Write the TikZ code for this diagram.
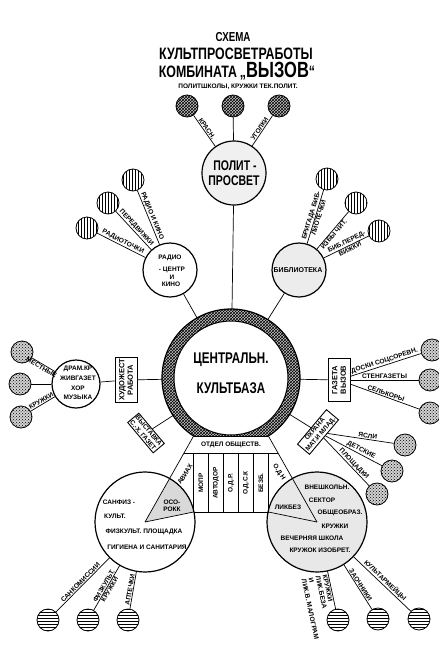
\documentclass[tikz,border=0pt]{standalone}
\usepackage{fontspec}
\setmainfont{Liberation Sans}
\newfontfamily\condf[FakeStretch=0.75]{Liberation Sans}
\usetikzlibrary{patterns}
\begin{document}
\begin{tikzpicture}[x=1pt,y=-1pt,
  every node/.style={font=\bfseries\fontsize{6.5}{7.5}\selectfont, inner sep=0.6pt},
  lab/.style={sloped, font=\bfseries\fontsize{6.6}{7.2}\selectfont, inner sep=0.7pt},
  sc/.style={circle, draw, line width=0.8pt, minimum size=22pt, inner sep=0pt},
  xh/.style={sc, preaction={fill=gray!45}, pattern=crosshatch},
  vl/.style={sc, pattern=vertical lines},
  hl/.style={sc, pattern=horizontal lines},
  st/.style={sc, preaction={fill=gray!35}, pattern=crosshatch dots},
  bigc/.style={circle, draw, line width=1.2pt, inner sep=0pt},
  bx/.style={draw, line width=0.9pt, fill=white, align=center, inner sep=1.2pt, font=\bfseries\fontsize{7.5}{8.5}\selectfont},
  ln/.style={line width=0.7pt},
  bigtxt/.style={font=\condf\bfseries\fontsize{#1}{#1}\selectfont}
]
\fill[white] (0,0) rectangle (439,670);
\useasboundingbox (0,0) rectangle (439,670);

% ---------- title
\node[bigtxt=13] (ttl1) at (233,37) {СХЕМА};
\node[bigtxt=16.5] (ttl2) at (236,54) {КУЛЬТПРОСВЕТРАБОТЫ};
\node[bigtxt=16.5, anchor=base] (ttl3) at (237,77) {КОМБИНАТА\,„{\fontsize{22}{22}\selectfont ВЫЗОВ}“};
\node (ttl4) at (238,87) {ПОЛИТШКОЛЫ, КРУЖКИ ТЕК.ПОЛИТ.};

% ---------- central ring
\node[circle, minimum size=138pt, inner sep=0pt] (cb) at (231,378) {};
\fill[gray!45] (231,378) circle (69pt);
\fill[pattern=crosshatch] (231,378) circle (69pt);
\fill[white] (231,378) circle (57pt);
\draw[line width=1.2pt] (231,378) circle (69pt);
\draw[line width=1pt] (231,378) circle (57pt);
\node[bigtxt=15.5] (cbt1) at (231,360) {ЦЕНТРАЛЬН.};
\node[bigtxt=15.5] (cbt2) at (231,388) {КУЛЬТБАЗА};

% ---------- department trapezoid
\coordinate (TL) at (193.6,436);
\coordinate (TR) at (268.4,436);
\coordinate (BL) at (184,453);
\coordinate (BR) at (278,453);
\coordinate (P) at (145,522);
\coordinate (Q) at (317,522);
\fill[white] (TL) -- (TR) -- (BR) -- (BL) -- cycle;

% lower circles
\node[circle, fill=white, minimum size=100pt, inner sep=0pt] (sf) at (145,522) {};
\node[circle, fill=gray!18, minimum size=100pt, inner sep=0pt] (vs) at (317,522) {};
\begin{scope}
  \clip (145,522) circle (50pt);
  \fill[gray!30] (P) -- (193.5,512) -- (193.5,453) -- (BL) -- cycle;
\end{scope}
\draw[line width=1.2pt] (145,522) circle (50pt);
\draw[line width=1.2pt] (317,522) circle (50pt);

\draw[ln] (TL) -- (TR);
\draw[ln] (TL) -- (P);
\draw[ln] (TR) -- (Q);
\draw[ln] (BL) -- (BR);
\foreach \cx in {193.5,208.5,223.5,238.5,253.5,268.5}
  \draw[ln] (\cx,453) -- (\cx,512);
\draw[ln] (193.5,512) -- (268.5,512);
\draw[ln] (P) -- (193.5,512);
\draw[ln] (Q) -- (268.5,512);

\node (otd) at (231,445) {ОТДЕЛ ОБЩЕСТВ.};
\node[rotate=90] (c1) at (201,483) {МОПР};
\node[rotate=90] (c2) at (216,483) {АВТОДОР};
\node[rotate=90] (c3) at (231,483) {О.Д.Р.};
\node[rotate=90] (c4) at (246,483) {О.Д.С.К};
\node[rotate=90] (c5) at (261,483) {БЕЗБ.};
\node[rotate=58] (avi) at (185,474) {АВИАХ};
\node[rotate=-58] (odn) at (279,472) {О.Д.Н};
\node[align=center] (oso) at (172,506) {ОСО-\\РОКК};

\node (sf1) at (119,502) {САНФИЗ -};
\node (sf2) at (115,516) {КУЛЬТ.};
\node (sf3) at (144,532) {ФИЗКУЛЬТ. ПЛОЩАДКА};
\node (sf4) at (147,547) {ГИГИЕНА И САНИТАРИЯ};

\node (vs1) at (327,487) {ВНЕШКОЛЬН.};
\node (vs2) at (322,500) {СЕКТОР};
\node (vs3) at (340,513) {ОБЩЕОБРАЗ.};
\node (vs4) at (335,526) {КРУЖКИ};
\node (vs5) at (312,538) {ВЕЧЕРНЯЯ ШКОЛА};
\node (vs6) at (320,550) {КРУЖОК ИЗОБРЕТ.};
\node (lik) at (288,507) {ЛИКБЕЗ};

% ---------- polit-prosvet
\node[bigc, fill=gray!12, minimum size=64pt] (pp) at (234,173) {};
\node[bigtxt=14] (ppt1) at (235,166) {ПОЛИТ -};
\node[bigtxt=14] (ppt2) at (234,181) {ПРОСВЕТ};
\node[xh] (ta) at (187,106) {};
\node[xh] (tb) at (233,106) {};
\node[xh] (tc) at (279,106) {};
\draw[ln] (ta) -- node[lab, above] {КРАСН.} (pp);
\draw[ln] (tb) -- (pp);
\draw[ln] (tc) -- node[lab, above] {УГОЛКИ} (pp);
\draw[ln] (pp) -- (cb);

% ---------- radio
\node[bigc, fill=white, minimum size=54pt] (rk) at (170,270) {};
\node (rkt1) at (170,258) {РАДИО};
\node (rkt2) at (172,270) {- ЦЕНТР};
\node (rkt3) at (172,277) {И};
\node (rkt4) at (171,284) {КИНО};
\node[vl] (r1) at (133,180) {};
\node[vl] (r2) at (108,203) {};
\node[vl] (r3) at (87,228) {};
\draw[ln] (r1) -- node[lab, above] {РАДИО И КИНО} (rk);
\draw[ln] (r2) -- node[lab, above] {ПЕРЕДВИЖКИ} (rk);
\draw[ln] (r3) -- node[lab, above] {РАДИОТОЧКИ} (rk);
\draw[ln] (rk) -- (cb);

% ---------- library
\node[bigc, fill=gray!15, minimum size=54pt] (bb) at (299,270) {};
\node[font=\bfseries\fontsize{7}{8}\selectfont] (bbt) at (298,270) {БИБЛИОТЕКА};
\node[vl] (b1) at (327,179) {};
\node[vl] (b2) at (356,203) {};
\node[vl] (b3) at (379,231) {};
\draw[ln] (b1) -- node[lab, above] {БРИГАДА БИБ-} node[lab, below] {ЛИОТЕЧКИ} (bb);
\draw[ln] (b2) -- node[lab, below, pos=0.55] {ИЗБЫ ЧИТ.} (bb);
\draw[ln] (b3) -- node[lab, above, pos=0.45] {БИБ.ПЕРЕД-} node[lab, below, pos=0.45] {ВИЖКИ} (bb);
\draw[ln] (bb) -- (cb);

% ---------- art work (left)
\node[bigc, fill=white, minimum size=48pt] (dr) at (76,384) {};
\node (drt1) at (78,369) {ДРАМ.КР};
\node (drt2) at (78,378) {ЖИВГАЗЕТ};
\node (drt3) at (78,388) {ХОР};
\node (drt4) at (78,397) {МУЗЫКА};
\node[st] (m1) at (22,352) {};
\node[st] (m2) at (20,384) {};
\node[st] (m3) at (21,417) {};
\draw[ln] (m1) -- node[lab, below, pos=0.5] {МЕСТНЫЕ} (dr);
\draw[ln] (m2) -- (dr);
\draw[ln] (m3) -- node[lab, above, pos=0.5] {КРУЖКИ} (dr);
\node[bx, rotate=90, minimum width=45pt, minimum height=22pt] (kh) at (126,380) {ХУДОЖЕСТ\\РАБОТА};
\draw[ln] (dr) -- (kh);
\draw[ln] (kh) -- (cb);

% ---------- newspaper (right)
\node[bx, rotate=90, minimum width=43pt, minimum height=22pt] (gz) at (339,380) {ГАЗЕТА\\ВЫЗОВ};
\draw[ln] (cb) -- (gz);
\node[st] (g1) at (432,350) {};
\node[st] (g2) at (430,380) {};
\node[st] (g3) at (430,413) {};
\draw[ln] (gz) -- node[lab, above] {ДОСКИ СОЦСОРЕВН.} (g1);
\draw[ln] (gz) -- node[lab, above] {СТЕНГАЗЕТЫ} (g2);
\draw[ln] (gz) -- node[lab, above] {СЕЛЬКОРЫ} (g3);

% ---------- exhibition box (lower left)
\node[bx, rotate=-50, font=\bfseries\fontsize{6.5}{7.5}\selectfont] (vy) at (146,433) {ВЫСТАВКА\\С.-Х. ГАЗЕТ};
\draw[ln] (vy) -- (cb);

% ---------- mother & child box (lower right)
\node[bx, rotate=50, font=\bfseries\fontsize{6.5}{7.5}\selectfont] (oh) at (318,432) {ОХРАНА\\МАТ.И МЛАД.};
\draw[ln] (oh) -- (cb);
\node[st] (y1) at (405,445) {};
\node[st] (y2) at (392,471) {};
\node[st] (y3) at (377,494) {};
\draw[ln] (oh) -- node[lab, above, pos=0.6] {ЯСЛИ} (y1);
\draw[ln] (oh) -- node[lab, above, pos=0.6] {ДЕТСКИЕ} (y2);
\draw[ln] (oh) -- node[lab, above, pos=0.6] {ПЛОЩАДКИ} (y3);

% ---------- bottom left circles
\node[hl] (h1) at (48,620) {};
\node[hl] (h2) at (88,620) {};
\node[hl] (h3) at (128,620) {};
\draw[ln] (h1) -- node[lab, above] {САНКОМИССИИ} (sf);
\draw[ln] (h2) -- node[lab, above] {ФИЗКУЛЬТ.} node[lab, below] {КРУЖКИ} (sf);
\draw[ln] (h3) -- node[lab, above] {АПТЕЧКИ} (sf);

% ---------- bottom right circles
\node[hl] (k1) at (338,620) {};
\node[hl] (k2) at (378,619) {};
\node[hl] (k3) at (419,619) {};
\draw[ln] (k1) -- node[lab, anchor=north west, pos=0.95, align=left] {КРУЖКИ\\ЛИК.БЕЗА\\И\\ЛИК.В. МАЛОГРАМ} (vs);
\draw[ln] (k2) -- node[lab, above] {ЗАОЧНИКИ} (vs);
\draw[ln] (k3) -- node[lab, above] {КУЛЬТАРМЕЙЦЫ} (vs);
\end{tikzpicture}
\end{document}
